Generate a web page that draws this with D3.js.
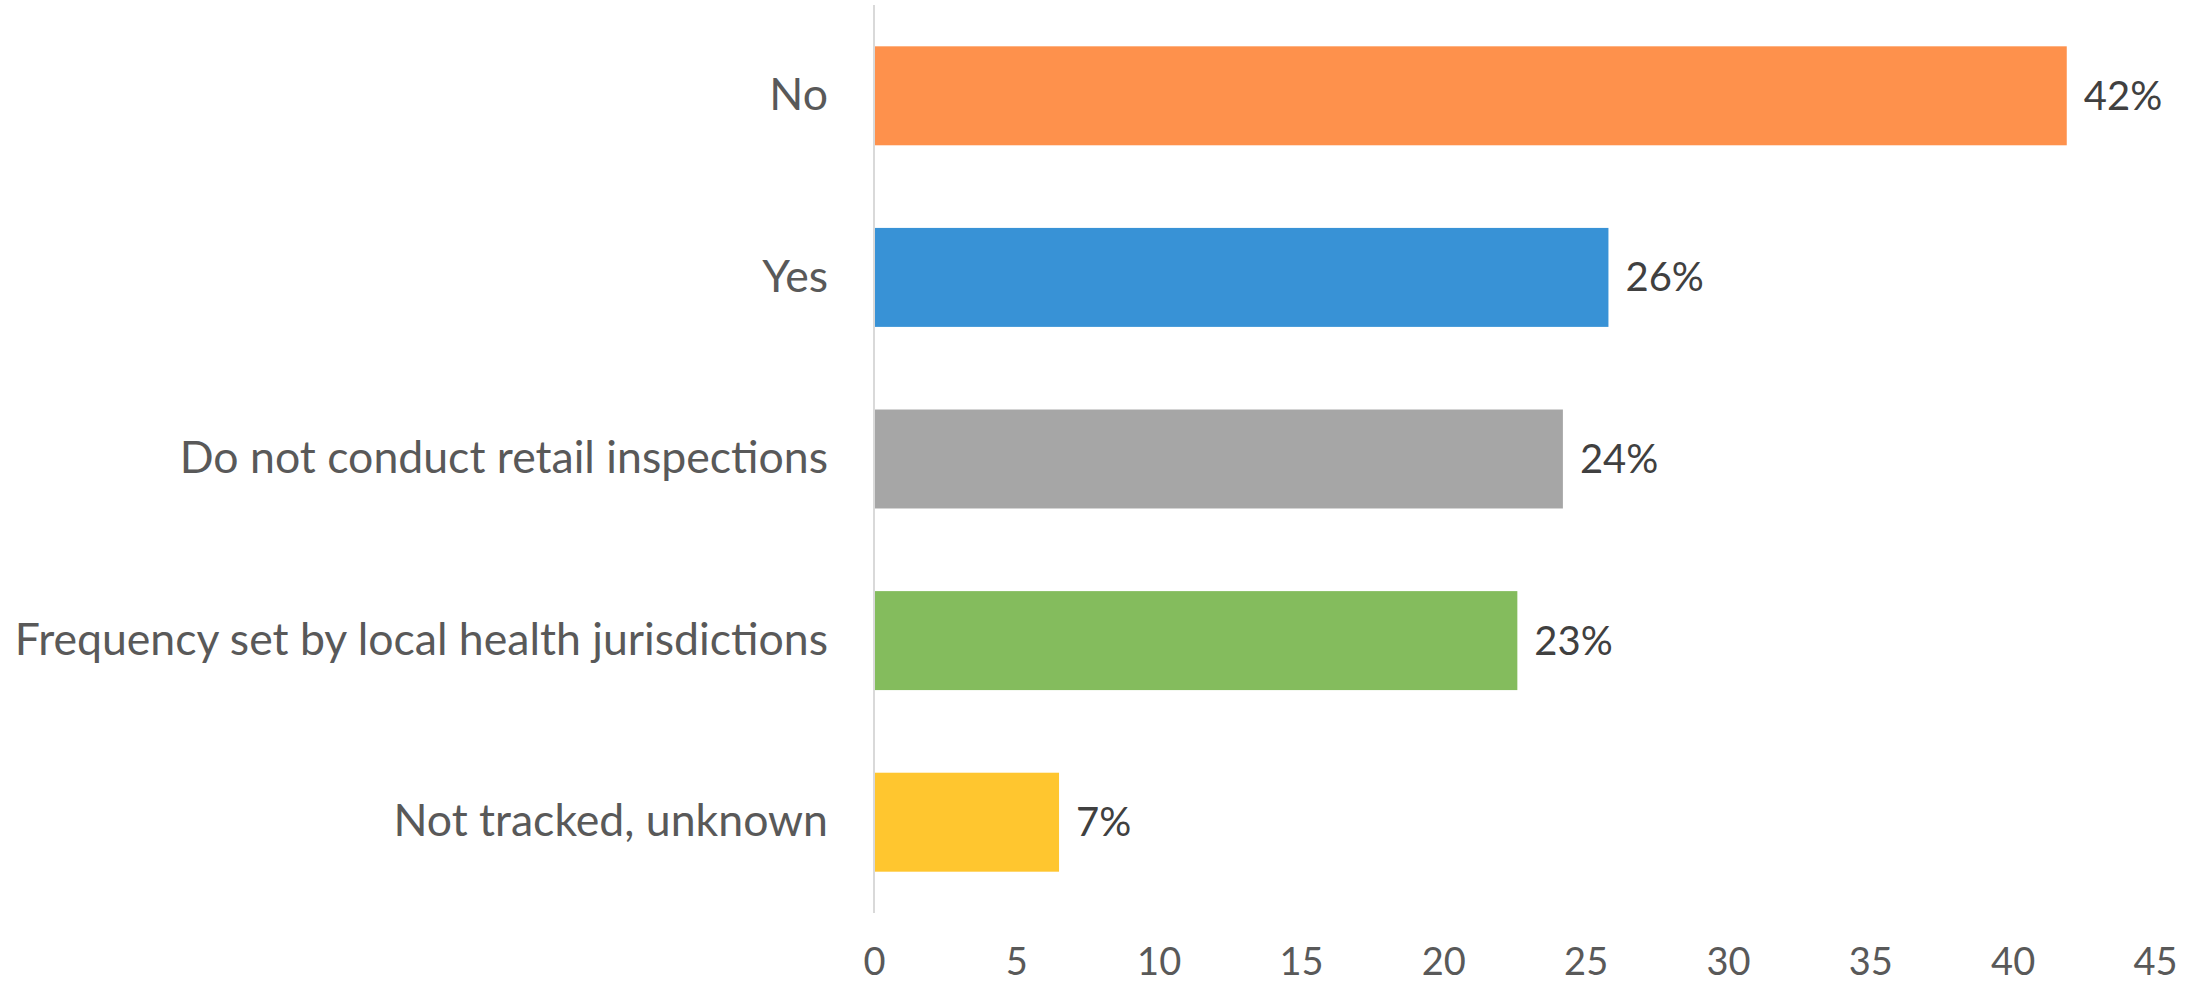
<!DOCTYPE html>
<html>
<head>
<meta charset="utf-8">
<script src="https://cdn.jsdelivr.net/npm/d3@7"></script>
<style>
  html, body { margin: 0; padding: 0; background: #ffffff; }
  svg { display: block; }
</style>
</head>
<body>
<svg id="chart" width="2192" height="985"></svg>
<script>
const categories = ["No", "Yes", "Do not conduct retail inspections", "Frequency set by local health jurisdictions", "Not tracked, unknown"];
const values = [41.9, 25.8, 24.2, 22.6, 6.5];
const valueLabels = ["42%", "26%", "24%", "23%", "7%"];
const colors = ["#FE914C", "#3892D6", "#A6A6A6", "#84BC5D", "#FFC62F"];
const xTicks = [0, 5, 10, 15, 20, 25, 30, 35, 40, 45];

const svg = d3.select("#chart");
const FONT = "Lato, 'Open Sans', sans-serif";

const x = d3.scaleLinear().domain([0, 45]).range([874, 2155]);
const y = d3.scaleBand().domain(categories).range([5, 913]).paddingInner(0.455).paddingOuter(0.2275);

// bars
svg.append("g").selectAll("rect")
  .data(categories)
  .join("rect")
  .attr("x", x(0))
  .attr("y", d => y(d))
  .attr("width", (d, i) => x(values[i]) - x(0))
  .attr("height", y.bandwidth())
  .attr("fill", (d, i) => colors[i]);

// vertical axis line
svg.append("line")
  .attr("x1", x(0)).attr("x2", x(0))
  .attr("y1", 5).attr("y2", 913)
  .attr("stroke", "#D9D9D9").attr("stroke-width", 2);

// category labels
const yAxis = d3.axisLeft(y).tickSize(0).tickPadding(46);
const gy = svg.append("g").attr("transform", `translate(${x(0)},0)`).call(yAxis);
gy.select(".domain").remove();
gy.selectAll("text")
  .attr("font-family", FONT)
  .attr("font-size", 44.6)
  .attr("fill", "#595959");

// x tick labels
const xAxis = d3.axisBottom(x).tickValues(xTicks).tickSize(0).tickPadding(0).tickFormat(d3.format("d"));
const gx = svg.append("g").attr("transform", "translate(0,975)").call(xAxis);
gx.select(".domain").remove();
gx.selectAll("text")
  .attr("y", 0)
  .attr("dy", "0")
  .attr("font-family", FONT)
  .attr("font-size", 38)
  .attr("fill", "#595959");

// value labels
svg.append("g").selectAll("text")
  .data(categories)
  .join("text")
  .attr("x", (d, i) => x(values[i]) + 17)
  .attr("y", d => y(d) + y.bandwidth() / 2)
  .attr("dy", "0.35em")
  .attr("font-family", FONT)
  .attr("font-size", 40)
  .attr("fill", "#404040")
  .text((d, i) => valueLabels[i]);
</script>
</body>
</html>
